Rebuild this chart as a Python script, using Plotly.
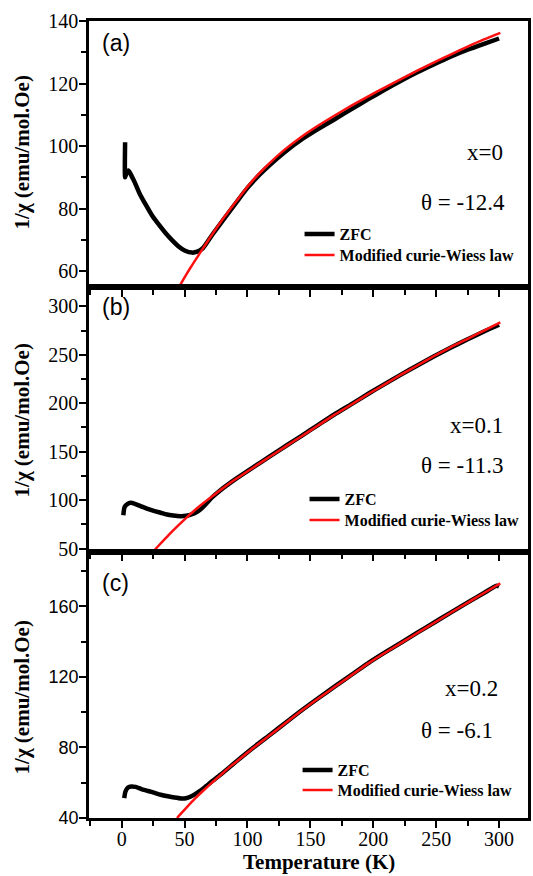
import plotly.graph_objects as go

# ---------------- data ----------------
# Panel (a): x = 0
a_zfc_T = [2.7, 2.7, 3.5, 5.4, 8, 10, 14, 19, 24.4, 30, 35, 40, 45.5, 50, 56, 60, 64.5, 72, 80, 91,
           100, 110, 117, 130, 143, 156, 169, 183, 196, 209, 222, 235, 248, 261, 275, 288, 300]
a_zfc_v = [101.2, 90.0, 91.0, 92.2, 90.3, 88.7, 85.0, 81.3, 77.6, 74.6, 72.1, 69.9, 67.8, 66.6, 65.9,
           66.2, 67.3, 71.6, 76.0, 81.9, 86.6, 91.0, 93.7, 98.2, 102.1, 105.4, 108.5, 111.9, 115.0,
           118.0, 120.9, 123.6, 126.1, 128.5, 130.8, 132.7, 134.4]
a_fit_T = [45.7, 50, 55, 60, 65, 72, 80, 91, 100, 110, 117, 130, 143, 156, 169, 183, 196, 209, 222,
           235, 248, 261, 275, 288, 301]
a_fit_v = [55.0, 58.0, 61.3, 64.4, 67.5, 71.8, 76.4, 82.3, 87.0, 91.5, 94.3, 99.0, 103.0, 106.5,
           109.7, 113.0, 115.9, 118.7, 121.4, 124.1, 126.7, 129.2, 131.8, 134.1, 136.2]

# Panel (b): x = 0.1
b_zfc_T = [1.3, 2.3, 4.5, 7, 11, 15, 20, 25.5, 31, 36, 41, 46.5, 51, 54.4, 58, 62.3, 67, 72, 78,
           91, 105, 118, 131, 143, 156, 169, 183, 196, 209, 222, 235, 248, 261, 275, 288, 300]
b_zfc_v = [84.5, 93.0, 96.0, 97.2, 96.0, 93.8, 91.3, 89.0, 87.0, 85.2, 84.2, 83.5, 83.8, 84.8, 86.5,
           90.0, 96.0, 103.0, 109.8, 122.2, 134.3, 145.4, 156.4, 166.4, 177.4, 188.4, 199.4, 209.8,
           219.8, 229.6, 239.0, 248.3, 257.1, 266.0, 274.0, 281.0]
b_fit_T = [24, 30, 38, 45, 52, 58, 65, 72, 78, 91, 105, 118, 131, 143, 156, 169, 183, 196, 209, 222,
           235, 248, 261, 275, 288, 301]
b_fit_v = [45.5, 54.0, 65.0, 74.0, 82.5, 89.5, 97.0, 104.0, 110.0, 122.0, 134.0, 145.0, 156.0,
           166.0, 177.0, 188.0, 199.0, 209.5, 219.5, 229.5, 239.0, 248.5, 257.5, 266.5, 275.0, 283.5]

# Panel (c): x = 0.2
c_zfc_T = [2, 3, 5, 7.7, 11, 15.6, 21, 26.2, 31, 36.7, 42, 47.2, 51, 55, 59, 63, 67, 72, 78.7, 91.9,
           105, 118, 131, 143.4, 156.5, 169.7, 183, 196, 209, 222.2, 235, 248.5, 261.5, 274.8, 288,
           298, 300]
c_zfc_v = [51.3, 55.0, 57.3, 57.9, 57.6, 56.4, 55.3, 54.2, 53.2, 52.3, 51.6, 51.1, 51.2, 52.2, 53.8,
           55.7, 58.0, 60.9, 64.6, 72.5, 80.1, 87.2, 94.4, 101.2, 108.0, 114.7, 121.3, 127.8, 133.7,
           139.4, 145.0, 150.8, 156.4, 162.0, 167.5, 171.6, 171.2]
c_fit_T = [44, 48, 52.4, 58, 65.6, 72, 78.7, 85, 91.9, 105, 118, 131, 143.4, 156.5, 169.7, 183, 196,
           209, 222.2, 235, 248.5, 261.5, 274.8, 288, 301]
c_fit_v = [40.0, 43.2, 46.6, 50.8, 56.0, 60.2, 64.4, 68.4, 72.3, 79.9, 87.0, 94.2, 101.0, 107.8,
           114.5, 121.1, 127.6, 133.5, 139.2, 144.8, 150.6, 156.3, 161.9, 167.5, 172.9]

panel_labels = ["(a)", "(b)", "(c)"]
x_labels = ["x=0", "x=0.1", "x=0.2"]
theta_labels = ["θ = -12.4", "θ = -11.3", "θ = -6.1"]
series_names = ["ZFC", "Modified curie-Wiess law"]
x_ticks = [0, 50, 100, 150, 200, 250, 300]
ytick_a = [60, 80, 100, 120, 140]
ytick_b = [50, 100, 150, 200, 250, 300]
ytick_c = [40, 80, 120, 160]

# ---------------- styling ----------------
SERIF = "Liberation Serif"
SANS = "Liberation Sans"
W, H = 533, 876
L, R, T, B = 89, 531, 21, 818


def px(x):
    return (x - L) / (R - L)


def py(y):
    return (B - y) / (B - T)


dom_c = [0, py(551.5)]
dom_b = [py(551.5), py(287)]
dom_a = [py(287), 1]

fig = go.Figure()

panels = [
    ("x", "y", a_zfc_T, a_zfc_v, a_fit_T, a_fit_v, "legend", "legend2"),
    ("x2", "y2", b_zfc_T, b_zfc_v, b_fit_T, b_fit_v, "legend3", "legend4"),
    ("x3", "y3", c_zfc_T, c_zfc_v, c_fit_T, c_fit_v, "legend5", "legend6"),
]
for xa, ya, zt, zv, ft, fv, lg1, lg2 in panels:
    fig.add_trace(go.Scatter(x=zt, y=zv, mode="lines", name=series_names[0], xaxis=xa, yaxis=ya,
                             line=dict(color="black", width=4.5, shape="spline", smoothing=0.6),
                             legend=lg1, showlegend=True))
    fig.add_trace(go.Scatter(x=ft, y=fv, mode="lines", name=series_names[1], xaxis=xa, yaxis=ya,
                             line=dict(color="#ff1010", width=2.5, shape="spline", smoothing=0.6),
                             legend=lg2, showlegend=True))

xr = [-26, 323]
common_x = dict(range=xr, showline=True, linewidth=2.5, linecolor="black", mirror=True,
                showgrid=False, zeroline=False, ticks="outside", ticklen=7, tickwidth=2,
                tickcolor="black", tickvals=x_ticks,
                minor=dict(dtick=25, tick0=0, ticks="outside", ticklen=5, tickwidth=2, tickcolor="black"))
common_y = dict(showline=True, linewidth=2.5, linecolor="black", mirror=True, showgrid=False,
                zeroline=False, ticks="outside", ticklen=7, tickwidth=2, tickcolor="black")

fig.update_layout(
    width=W, height=H,
    margin=dict(l=L, r=W - R, t=T, b=H - B),
    paper_bgcolor="white", plot_bgcolor="white",
    xaxis=dict(**common_x, anchor="y", showticklabels=False),
    xaxis2=dict(**common_x, anchor="y2", matches="x", showticklabels=False),
    xaxis3=dict(**common_x, anchor="y3", matches="x", showticklabels=True,
                tickfont=dict(family=SERIF, size=20, color="black")),
    yaxis=dict(**common_y, domain=dom_a, range=[54.9, 140], tickvals=ytick_a,
               minor=dict(dtick=10, tick0=0, ticks="outside", ticklen=5, tickwidth=2, tickcolor="black"),
               tickfont=dict(family=SERIF, size=20, color="black"), anchor="x"),
    yaxis2=dict(**common_y, domain=dom_b, range=[47, 320], tickvals=ytick_b,
                minor=dict(dtick=25, tick0=0, ticks="outside", ticklen=5, tickwidth=2, tickcolor="black"),
                tickfont=dict(family=SERIF, size=20, color="black"), anchor="x2"),
    yaxis3=dict(**common_y, domain=dom_c, range=[40, 191], tickvals=ytick_c,
                minor=dict(dtick=20, tick0=0, ticks="outside", ticklen=5, tickwidth=2, tickcolor="black"),
                tickfont=dict(family=SANS, size=18, color="black"), anchor="x3"),
    showlegend=True,
)
try:
    fig.update_xaxes(ticklabelstandoff=-6)
    fig.update_yaxes(ticklabelstandoff=-3)
except Exception:
    pass

leg_common = dict(xanchor="left", yanchor="middle", bgcolor="rgba(0,0,0,0)", borderwidth=0,
                  font=dict(family=SERIF, size=16, color="black", weight="bold"),
                  itemwidth=30, tracegroupgap=0)
leg_pos = {
    "legend": (301, 234), "legend2": (301, 255),
    "legend3": (306, 499), "legend4": (306, 520),
    "legend5": (299, 770), "legend6": (299, 790),
}
fig.update_layout(**{k: dict(**leg_common, x=px(v[0]), y=py(v[1])) for k, v in leg_pos.items()})

annots = []
label_pos = [(100, 43), (100, 307), (100, 583)]
for (lx, ly), t in zip(label_pos, panel_labels):
    annots.append(dict(text=t, x=px(lx), y=py(ly), xref="paper", yref="paper", showarrow=False,
                       xanchor="left", yanchor="middle", font=dict(family=SANS, size=23, color="black")))
xpos = [(508, 152), (508, 425), (503, 688)]
tpos = [(510, 203), (509, 465), (498, 730)]
for (x1, y1), (x2, y2), t1, t2 in zip(xpos, tpos, x_labels, theta_labels):
    annots.append(dict(text=t1, x=px(x1), y=py(y1), xref="paper", yref="paper", showarrow=False,
                       xanchor="right", yanchor="middle", font=dict(family=SERIF, size=23, color="black")))
    annots.append(dict(text=t2, x=px(x2), y=py(y2), xref="paper", yref="paper", showarrow=False,
                       xanchor="right", yanchor="middle", font=dict(family=SERIF, size=23, color="black")))
for cy in [152, 420, 697]:
    annots.append(dict(text="1/χ (emu/mol.Oe)", x=px(22), y=py(cy), xref="paper", yref="paper",
                       showarrow=False, textangle=-90, xanchor="center", yanchor="middle",
                       font=dict(family=SERIF, size=21, color="black", weight="bold")))
annots.append(dict(text="Temperature (K)", x=px(321), y=py(862), xref="paper", yref="paper",
                   showarrow=False, xanchor="center", yanchor="middle", borderpad=0,
                   font=dict(family=SERIF, size=21, color="black", weight="bold")))
fig.update_layout(annotations=annots)

fig.write_html("out.html", config={"displayModeBar": False},
               post_script="document.body.style.margin='0px';")
